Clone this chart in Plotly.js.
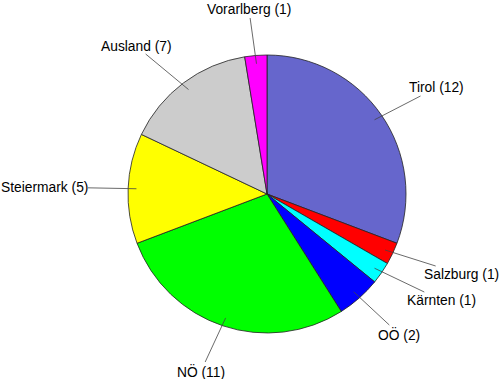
<!DOCTYPE html>
<html>
<head>
<meta charset="utf-8">
<script src="https://cdn.plot.ly/plotly-3.0.1.min.js"></script>
<style>html,body{margin:0;padding:0;background:#fff}#chart{width:500px;height:379px}</style>
</head>
<body>
<div id="chart"></div>
<script>
// Data
const categories = ["Tirol", "Salzburg", "Kärnten", "OÖ", "NÖ", "Steiermark", "Ausland", "Vorarlberg"];
// slice sizes as drawn in the picture (the Ausland slice is drawn as 6 units)
const sliceValues = [12, 1, 1, 2, 11, 5, 6, 1];
// counts printed in the labels
const labelCounts = [12, 1, 1, 2, 11, 5, 7, 1];
const colors = ["#6666CC", "#FF0000", "#00FFFF", "#0000FF", "#00FF00", "#FFFF00", "#CCCCCC", "#FF00FF"];

// Layout / style (pixel geometry of the pie and label placement)
const W = 500, H = 379;
const cx = 267, cy = 194, R = 139;
// label text centres relative to the pie centre (px, y down)
const labelCentre = [[169,-106],[194,80],[174,106],[132,140],[-66,177],[-223,-7],[-131,-148],[-18,-184]];

const domX = [(cx - R) / W, (cx + R) / W];
const domY = [1 - (cy + R) / H, 1 - (cy - R) / H];

const total = sliceValues.reduce((a, b) => a + b, 0);
let cum = 0;
const annotations = categories.map((c, i) => {
  const mid = (cum + sliceValues[i] / 2) / total * 2 * Math.PI;
  cum += sliceValues[i];
  const px = cx + 0.94 * R * Math.sin(mid);
  const py = cy - 0.94 * R * Math.cos(mid);
  const tx = cx + labelCentre[i][0];
  const ty = cy + labelCentre[i][1];
  return {
    x: px / W, y: 1 - py / H, xref: 'paper', yref: 'paper',
    text: c + ' (' + labelCounts[i] + ')',
    showarrow: true, arrowhead: 0, arrowwidth: 0.8, arrowcolor: '#444',
    axref: 'pixel', ayref: 'pixel', ax: tx - px, ay: ty - py,
    font: {family: 'Liberation Sans, Arial, sans-serif', size: 13.8, color: '#000'},
    borderpad: 0
  };
});

const trace = {
  type: 'pie',
  labels: categories,
  values: sliceValues,
  sort: false,
  direction: 'clockwise',
  rotation: 0,
  marker: {colors: colors, line: {color: '#222', width: 0.8}},
  textinfo: 'none',
  hoverinfo: 'none',
  showlegend: false,
  domain: {x: domX, y: domY}
};

Plotly.newPlot('chart', [trace], {
  width: W, height: H,
  margin: {l: 0, r: 0, t: 0, b: 0},
  paper_bgcolor: '#fff',
  showlegend: false,
  annotations: annotations
}, {displayModeBar: false, staticPlot: true});
</script>
</body>
</html>
